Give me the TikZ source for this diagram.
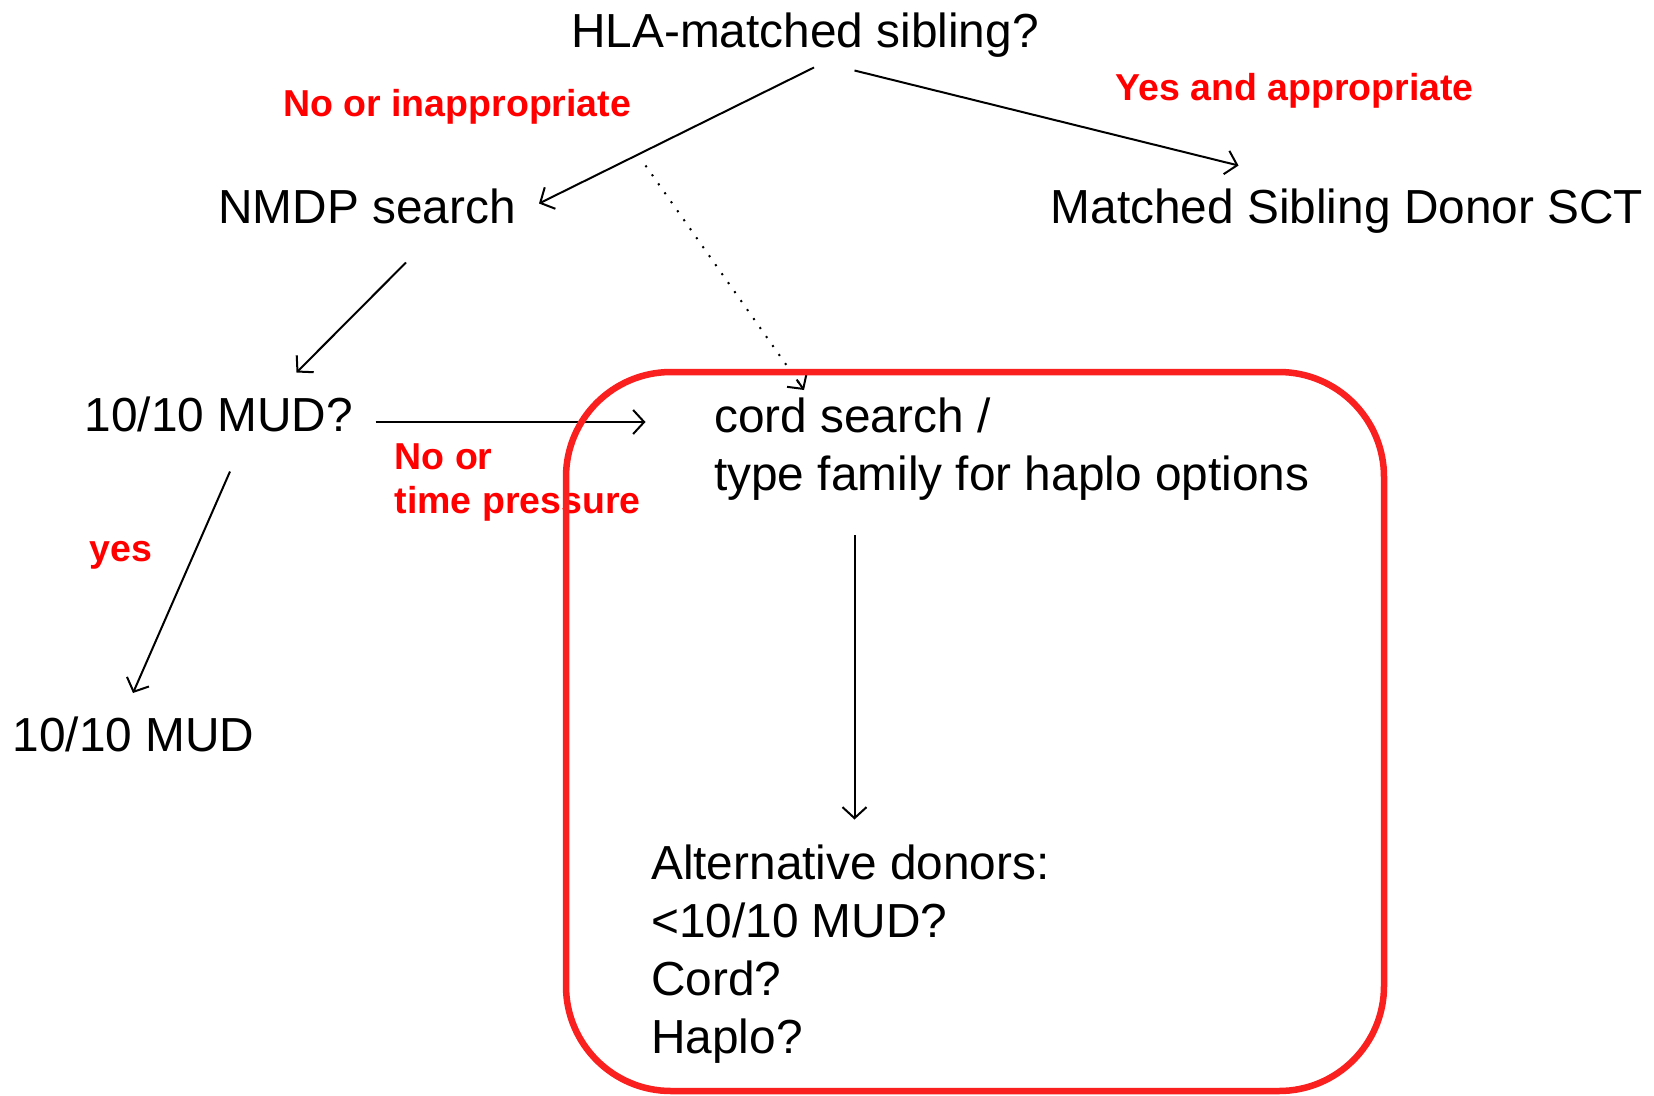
\documentclass[tikz,border=0pt]{standalone}
\usepackage{fontspec}
\setmainfont{Liberation Sans}
\usetikzlibrary{arrows.meta}
\definecolor{lblred}{RGB}{255,0,0}
\definecolor{boxred}{RGB}{250,32,32}
\tikzset{
  txt/.style={inner sep=0pt, anchor=base west, font=\fontsize{47.8}{58}\selectfont, align=left},
  lbl/.style={inner sep=0pt, anchor=base west, text=lblred, font=\fontsize{37.5}{44}\selectfont\bfseries, align=left},
  conn/.style={line width=2pt, -{Straight Barb[length=11pt,width=24pt,line width=2pt]}},
  dotline/.style={line width=2pt, dash pattern=on 2pt off 9pt},
  frame/.style={draw=boxred, line width=6.5pt, rounded corners=105pt}
}
\begin{document}
\begin{tikzpicture}[x=1pt,y=-1pt]
\useasboundingbox (0,0) rectangle (1654,1095);
\fill[white] (0,0) rectangle (1654,1095);
% nodes (base anchor = baseline of last line)
\node[txt] (hla) at (571,47) {HLA-matched sibling?};
\node[txt] (nmdp) at (218,223.5) {NMDP search};
\node[txt] (msd) at (1050.5,223.5) {Matched Sibling Donor SCT};
\node[txt] (mudq) at (84.5,431.5) {10/10 MUD?};
\node[txt] (cord) at (714,490.5) {cord search /\\type family for haplo options};
\node[txt] (mud) at (12.5,751) {10/10 MUD};
\node[txt] (alt) at (651,1053) {Alternative donors:\\<10/10 MUD?\\Cord?\\Haplo?};
% labels
\node[lbl] (lno) at (283,116.5) {No or inappropriate};
\node[lbl] (lyes) at (1115,100.5) {Yes and appropriate};
\node[lbl] (ltime) at (394.5,513) {No or\\time pressure};
\node[lbl] (lyes2) at (89.5,561) {yes};
% connector end points
\coordinate (hlaL) at (814,67.5);
\coordinate (hlaR) at (854.5,70.5);
\coordinate (nmdpIn) at (539,203.5);
\coordinate (msdIn) at (1238.5,165.5);
\coordinate (dotS) at (645.5,165.5);
\coordinate (cordIn) at (804,390);
\coordinate (nmdpOut) at (406,262.5);
\coordinate (mudqIn) at (296.5,372.5);
\coordinate (mudqR) at (375.5,422);
\coordinate (cordL) at (645.5,422);
\coordinate (mudqB) at (230,471.5);
\coordinate (mudIn) at (133,693);
\coordinate (cordB) at (854.5,535);
\coordinate (altIn) at (854.5,819.5);
% connectors
\draw[conn] (hlaL) -- (nmdpIn);
\draw[conn] (hlaR) -- (msdIn);
\draw[dotline] (dotS) -- (cordIn);
\draw[conn, shorten <=262pt] (dotS) -- (cordIn);
\draw[conn] (nmdpOut) -- (mudqIn);
\draw[conn] (mudqR) -- (cordL);
\draw[conn] (mudqB) -- (mudIn);
\draw[conn] (cordB) -- (altIn);
% frame on top
\draw[frame] (566,372) rectangle (1384,1091);
\end{tikzpicture}
\end{document}
